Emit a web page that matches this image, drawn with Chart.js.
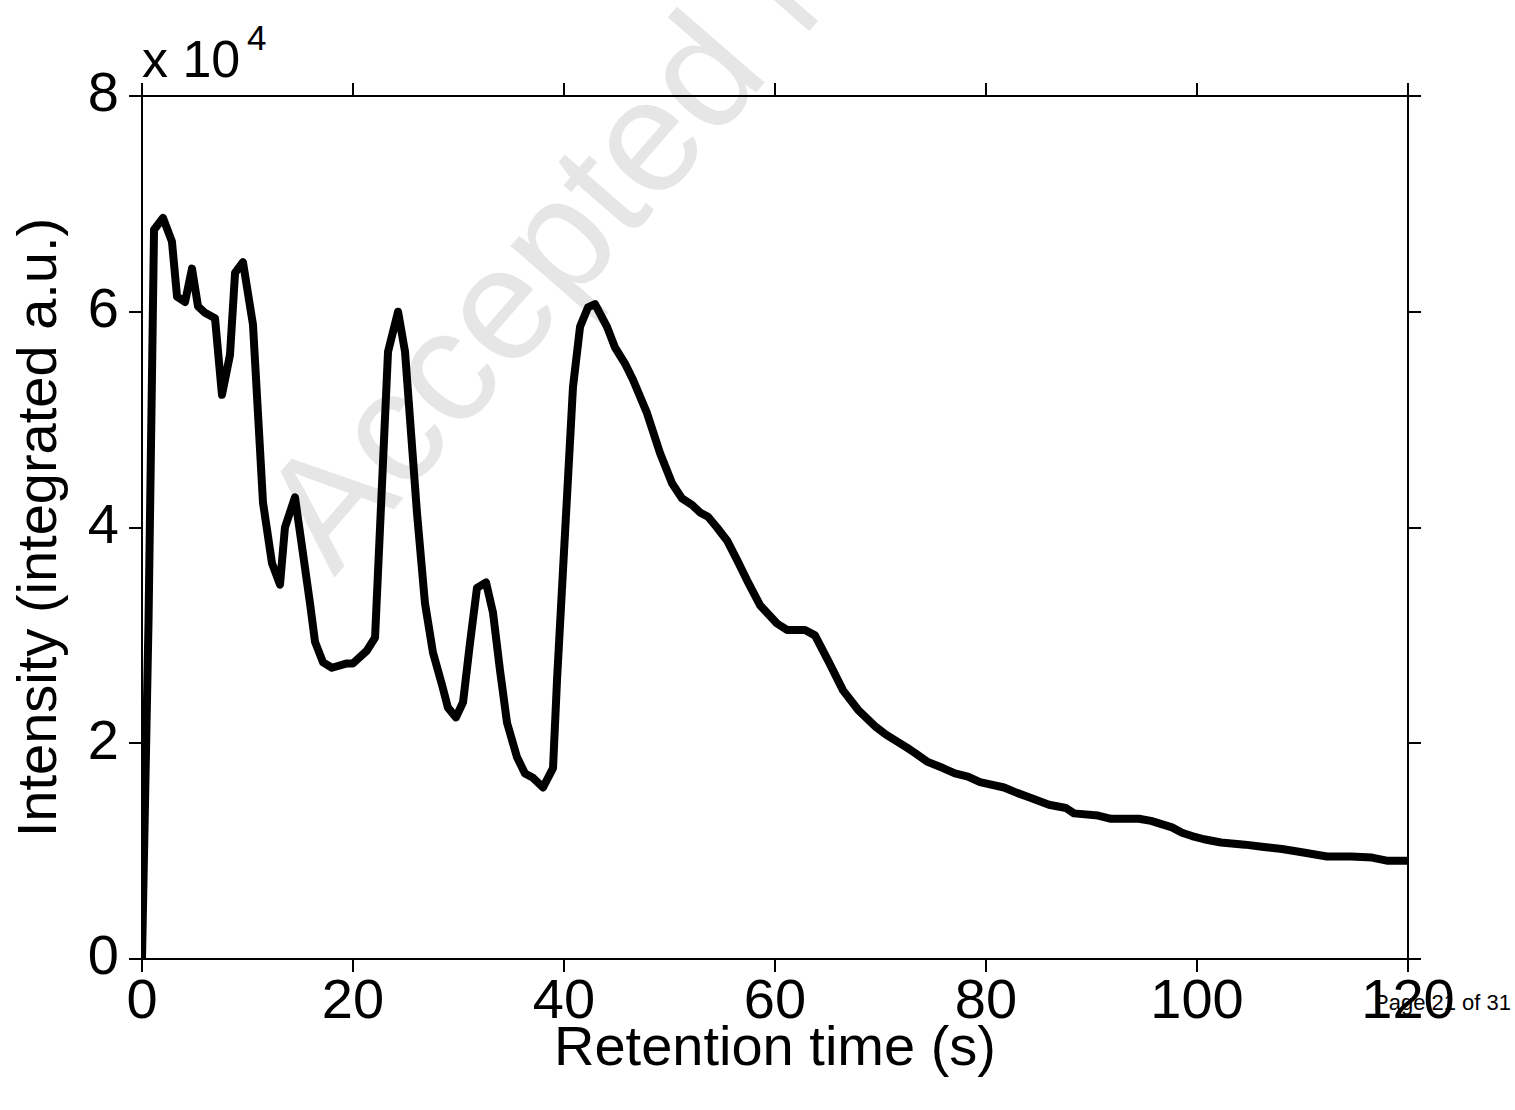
<!DOCTYPE html>
<html>
<head>
<meta charset="utf-8">
<title>Retention time</title>
<script src="https://cdn.jsdelivr.net/npm/chart.js@4.4.1/dist/chart.umd.min.js"></script>
<style>
  html,body{margin:0;padding:0;background:#fff;}
  #wrap{position:relative;width:1515px;height:1110px;overflow:hidden;}
  #wrap svg,#wrap canvas{position:absolute;left:0;top:0;}
  svg text{font-family:"Liberation Sans",Arial,sans-serif;}
</style>
</head>
<body>
<div id="wrap">
  <svg width="1515" height="1110">
    <text x="334" y="578" transform="rotate(-49 334 578)" font-size="160" fill="#e6e6e6">Accepted Manuscript</text>
    <text x="142" y="77" font-size="52">x 10</text>
    <text x="247" y="50" font-size="35">4</text>
    <text x="1511" y="1010" font-size="22" text-anchor="end">Page 21 of 31</text>
  </svg>
  <canvas id="chart" width="1515" height="1110"></canvas>
</div>
<script>
// retention time (s)
const times = [
  0, 0.62, 1.14, 1.99, 2.84, 3.32, 4.08, 4.74, 5.31, 5.97,
  6.92, 7.58, 8.34, 8.82, 9.57, 10.52, 11.47, 12.32, 13.08, 13.55,
  14.50, 15.17, 15.92, 16.40, 17.16, 18.01, 19.43, 20.00, 21.33, 22.09,
  23.32, 24.27, 24.93, 26.07, 26.82, 27.58, 28.44, 29.00, 29.76, 30.43,
  31.09, 31.75, 32.61, 33.27, 33.93, 34.60, 35.55, 36.30, 37.06, 38.01,
  38.96, 39.34, 40.85, 41.52, 42.27, 42.94, 44.08, 44.83, 45.78, 46.54,
  47.87, 49.10, 50.24, 51.18, 52.13, 52.89, 53.65, 54.50, 55.45, 56.40,
  57.35, 58.58, 60.19, 61.14, 62.84, 63.79, 65.12, 66.45, 67.87, 69.57,
  70.52, 72.51, 73.27, 74.41, 75.92, 77.06, 78.29, 79.43, 81.71, 82.94,
  84.08, 85.97, 87.58, 88.34, 90.62, 91.85, 94.50, 95.64, 97.63, 98.58,
  99.53, 100.66, 102.27, 104.55, 106.16, 108.06, 109.95, 112.32, 114.60, 116.59,
  118.10, 120
];
// intensity (integrated a.u.)
const intensity = [
  0, 31400, 67600, 68700, 66500, 61400, 60900, 64000, 60500, 59900,
  59400, 52300, 56000, 63600, 64600, 58800, 42300, 36700, 34700, 40000,
  42800, 38200, 33000, 29400, 27500, 27000, 27400, 27400, 28600, 29800,
  56300, 60000, 56300, 41300, 33000, 28400, 25400, 23300, 22400, 23800,
  29300, 34400, 34900, 32100, 26800, 21900, 18700, 17200, 16800, 15900,
  17700, 25900, 53000, 58600, 60400, 60700, 58600, 56700, 55200, 53700,
  50600, 46900, 44100, 42700, 42100, 41400, 41000, 40000, 38800, 37000,
  35100, 32800, 31100, 30500, 30500, 30000, 27500, 24900, 23100, 21500,
  20800, 19600, 19100, 18300, 17700, 17200, 16900, 16400, 15900, 15400,
  15000, 14300, 14000, 13500, 13300, 13000, 13000, 12800, 12200, 11700,
  11400, 11100, 10800, 10600, 10400, 10200, 9900, 9500, 9500, 9400,
  9100, 9100
];
const xTicks = { min: 0, max: 120, step: 20 };
const yTicks = { min: 0, max: 80000, step: 20000, scale: 10000 };

const ink = '#000';
Chart.defaults.font.family = '"Liberation Sans", Arial, sans-serif';
Chart.defaults.color = ink;

// force axis thickness so the plot box lands where the original had it
function fixSize(size){ return s => { if (s.isHorizontal()) s.height = size; else s.width = size; }; }
const edge = { display: true, color: ink, width: 2 };
const outTicks = { drawOnChartArea: false, drawTicks: true, tickLength: 13, color: ink, lineWidth: 2 };

new Chart(document.getElementById('chart'), {
  type: 'line',
  data: {
    datasets: [{
      data: times.map((t, i) => ({ x: t, y: intensity[i] })),
      borderColor: ink, borderWidth: 8, pointRadius: 0, tension: 0,
      borderJoinStyle: 'round', borderCapStyle: 'round', fill: false
    }]
  },
  options: {
    responsive: false, animation: false, devicePixelRatio: 1,
    layout: { padding: { top: 96, right: 107, left: 0, bottom: 0 } },
    plugins: { legend: { display: false }, tooltip: { enabled: false } },
    scales: {
      x: {
        type: 'linear', position: 'bottom', min: xTicks.min, max: xTicks.max,
        ticks: { stepSize: xTicks.step, padding: -3, maxRotation: 0, font: { size: 56 } },
        grid: outTicks, border: edge,
        title: { display: true, text: 'Retention time (s)', font: { size: 56 }, padding: { top: 0, bottom: 27 } },
        afterFit: fixSize(151)
      },
      x2: {
        type: 'linear', position: 'top', min: xTicks.min, max: xTicks.max,
        ticks: { stepSize: xTicks.step, display: false },
        grid: outTicks, border: edge, afterFit: fixSize(0)
      },
      y: {
        type: 'linear', position: 'left', min: yTicks.min, max: yTicks.max,
        ticks: { stepSize: yTicks.step, padding: 10, font: { size: 56 }, callback: v => v / yTicks.scale },
        grid: outTicks, border: edge,
        title: { display: true, text: 'Intensity (integrated a.u.)', font: { size: 56 }, padding: { top: 7, bottom: 0 } },
        afterFit: fixSize(142)
      },
      y2: {
        type: 'linear', position: 'right', min: yTicks.min, max: yTicks.max,
        ticks: { stepSize: yTicks.step, display: false },
        grid: outTicks, border: edge, afterFit: fixSize(0)
      }
    }
  }
});
</script>
</body>
</html>
